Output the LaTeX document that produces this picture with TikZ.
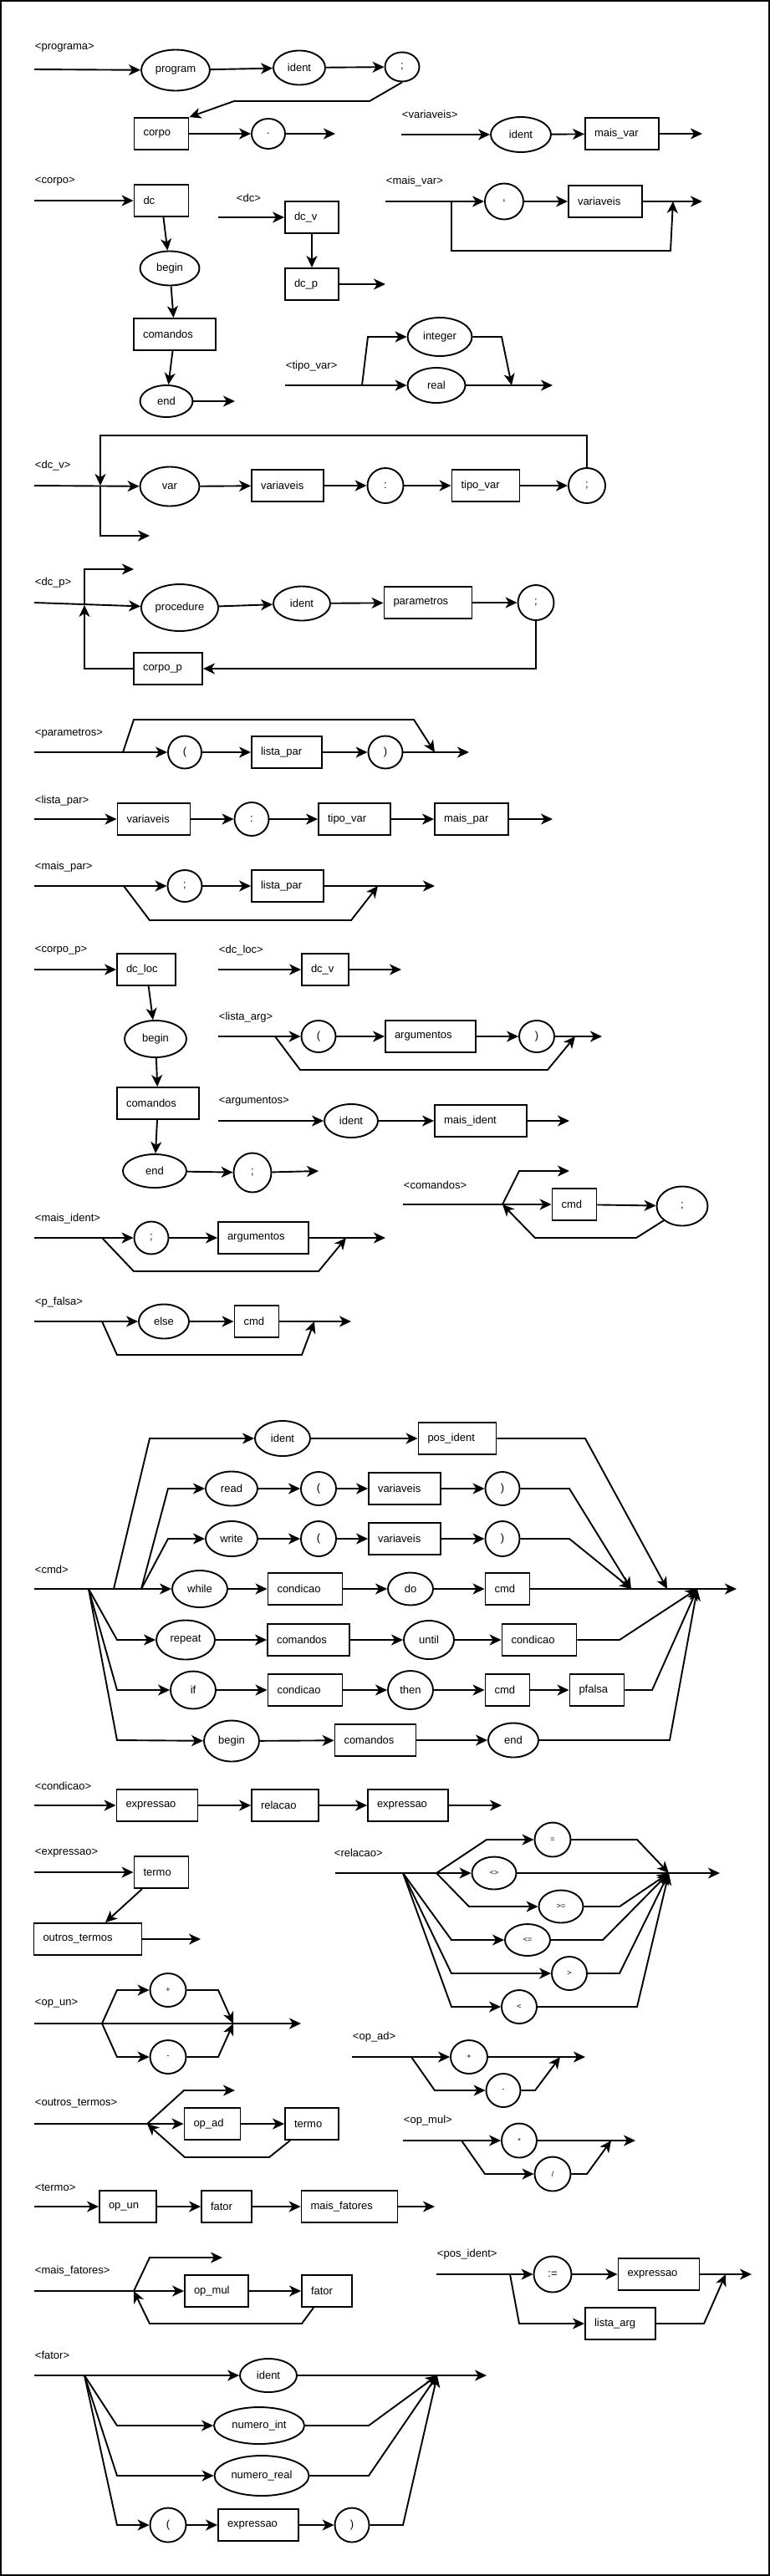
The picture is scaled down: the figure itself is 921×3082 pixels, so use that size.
\documentclass[tikz,border=0pt]{standalone}
\usepackage{fontspec}
\setmainfont{Liberation Sans}
\usetikzlibrary{arrows.meta, shapes.geometric}

\begin{document}
\begin{tikzpicture}[
  x=1pt, y=-1pt,
  line width=1.9pt,
  font=\fontsize{13}{15}\selectfont,
  tok/.style={draw, ellipse, inner sep=0pt, minimum width=42, minimum height=40},
  nt/.style={draw, rectangle, minimum height=38, inner xsep=11pt, inner ysep=0pt,
             text width=#1-22, align=left},
  nt/.default=65,
  op/.style={font=\fontsize{9}{10}\selectfont},
  lbl/.style={anchor=west, inner sep=0pt},
  arr/.style={-{Stealth[length=14pt, width=13pt, inset=4pt]}},
]
  \useasboundingbox (0,0) rectangle (921,3082);
  \draw[line width=2.4pt] (1.2,1.2) rectangle (919.8,3080.8);

  % <programa>
  \node[lbl] (lprog) at (41,57) {<programa>};
  \coordinate (progin) at (41,83);
  \node[tok, minimum width=82, minimum height=49] (prog) at (210,84) {program};
  \node[tok, minimum width=62, minimum height=41] (progid) at (358,81) {ident};
  \node[tok, minimum width=41, minimum height=35] (progsc) at (481,80) {;};
  \node[nt=65] (progcorpo) at (193,160) {corpo};
  \node[tok, minimum width=40, minimum height=36] (progdot) at (321,160) {.};
  \coordinate (progout) at (401,160);
  \draw[arr] (progin) -- (prog);
  \draw[arr] (prog) -- (progid);
  \draw[arr] (progid) -- (progsc);
  \draw[arr] (progsc.south) -- (442,121) -- (280,121) -- (progcorpo.north east);
  \draw[arr] (progcorpo) -- (progdot);
  \draw[arr] (progdot) -- (progout);

  % <variaveis>
  \node[lbl] (lvar) at (480,137) {<variaveis>};
  \coordinate (varin) at (480,161);
  \node[tok, minimum width=72, minimum height=42] (varid) at (623,161) {ident};
  \node[nt=88] (varmais) at (744,160) {mais\_var};
  \coordinate (varout) at (840,160);
  \draw[arr] (varin) -- (varid);
  \draw[arr] (varid) -- (varmais);
  \draw[arr] (varmais) -- (varout);

  % <corpo>
  \node[lbl] (lcor) at (41,217) {<corpo>};
  \coordinate (corin) at (41,240);
  \node[nt=65] (cordc) at (193,240) {dc};
  \node[tok, minimum width=71, minimum height=41] (corbeg) at (203,321) {begin};
  \node[nt=98] (corcmd) at (209,400) {comandos};
  \node[tok, minimum width=63, minimum height=38] (corend) at (199,480) {end};
  \coordinate (corout) at (281,480);
  \draw[arr] (corin) -- (cordc);
  \draw[arr] (cordc) -- (corbeg);
  \draw[arr] (corbeg) -- (corcmd);
  \draw[arr] (corcmd) -- (corend);
  \draw[arr] (corend) -- (corout);

  % <dc>
  \node[lbl] (ldc) at (282,237) {<dc>};
  \coordinate (dcin) at (261,260);
  \node[nt=64] (dcv) at (373,260) {dc\_v};
  \node[nt=64] (dcp) at (373,340) {dc\_p};
  \coordinate (dcout) at (461,340);
  \draw[arr] (dcin) -- (dcv);
  \draw[arr] (dcv) -- (dcp);
  \draw[arr] (dcp) -- (dcout);

  % <mais_var>
  \node[lbl] (lmv) at (461,217) {<mais\_var>};
  \coordinate (mvin) at (461,241);
  \coordinate (mvsplit) at (540,241);
  \node[tok, minimum width=46, minimum height=43] (mvcomma) at (603,241) {,};
  \node[nt=88] (mvvar) at (724,241) {variaveis};
  \coordinate (mvjoin) at (805,241);
  \coordinate (mvout) at (840,241);
  \draw[arr] (mvin) -- (mvcomma);
  \draw[arr] (mvcomma) -- (mvvar);
  \draw[arr] (mvvar) -- (mvout);
  \draw[arr] (mvsplit) -- (540,300) -- (802,300) -- (mvjoin);

  % <tipo_var>
  \node[lbl] (ltv) at (341,438) {<tipo\_var>};
  \coordinate (tvin) at (341,461);
  \coordinate (tvsplit) at (433,461);
  \node[tok, minimum width=77, minimum height=46] (tvint) at (526,403) {integer};
  \node[tok, minimum width=69, minimum height=42] (tvreal) at (522,461) {real};
  \coordinate (tvjoin) at (612,461);
  \coordinate (tvout) at (661,461);
  \draw[arr] (tvin) -- (tvreal);
  \draw[arr] (tvsplit) -- (440,403) -- (tvint);
  \draw[arr] (tvint) -- (600,403) -- (tvjoin);
  \draw[arr] (tvreal) -- (tvout);

  % <dc_v>
  \node[lbl] (ldv) at (41,557) {<dc\_v>};
  \coordinate (dvin) at (41,581);
  \coordinate (dvloop) at (120,581);
  \node[tok, minimum width=71, minimum height=47] (dvvar) at (203,582) {var};
  \node[nt=86] (dvvars) at (344,581) {variaveis};
  \node[tok, minimum width=43, minimum height=42] (dvcolon) at (461,581) {:};
  \node[nt=81] (dvtipo) at (581,581) {tipo\_var};
  \node[tok, minimum width=44, minimum height=42] (dvsc) at (702,581) {;};
  \coordinate (dvout) at (179,641);
  \draw[arr] (dvin) -- (dvvar);
  \draw[arr] (dvvar) -- (dvvars);
  \draw[arr] (dvvars) -- (dvcolon);
  \draw[arr] (dvcolon) -- (dvtipo);
  \draw[arr] (dvtipo) -- (dvsc);
  \draw[arr] (dvsc.north) -- (702,521) -- (120,521) -- (dvloop);
  \draw[arr] (dvloop) -- (120,641) -- (dvout);

  % <dc_p>
  \node[lbl] (ldp) at (41,697) {<dc\_p>};
  \coordinate (dpin) at (41,721);
  \coordinate (dploop) at (101,724);
  \node[tok, minimum width=92, minimum height=56] (dpproc) at (215,727) {procedure};
  \node[tok, minimum width=68, minimum height=41] (dpid) at (361,722) {ident};
  \node[nt=105] (dppar) at (512,721) {parametros};
  \node[tok, minimum width=43, minimum height=42] (dpsc) at (641,721) {;};
  \node[nt=82] (dpcorpo) at (201,800) {corpo\_p};
  \coordinate (dpout) at (160,681);
  \draw[arr] (dpin) -- (dpproc);
  \draw[arr] (dpproc) -- (dpid);
  \draw[arr] (dpid) -- (dppar);
  \draw[arr] (dppar) -- (dpsc);
  \draw[arr] (dpsc.south) -- (641,800) -- (dpcorpo);
  \draw[arr] (dpcorpo) -- (101,800) -- (dploop);
  \draw[arr] (dploop) -- (101,681) -- (dpout);

  % <parametros>
  \node[lbl] (lpm) at (41,878) {<parametros>};
  \coordinate (pmin) at (41,900);
  \coordinate (pmsplit) at (147,900);
  \node[tok, minimum width=40, minimum height=39] (pmopen) at (221,900) {(};
  \node[nt=84] (pmlista) at (343,900) {lista\_par};
  \node[tok, minimum width=41, minimum height=39] (pmclose) at (461,900) {)};
  \coordinate (pmjoin) at (520,900);
  \coordinate (pmout) at (561,900);
  \draw[arr] (pmin) -- (pmopen);
  \draw[arr] (pmopen) -- (pmlista);
  \draw[arr] (pmlista) -- (pmclose);
  \draw[arr] (pmclose) -- (pmout);
  \draw[arr] (pmsplit) -- (160,861) -- (495,861) -- (pmjoin);

  % <lista_par>
  \node[lbl] (llp) at (41,958) {<lista\_par>};
  \coordinate (lpin) at (41,980);
  \node[nt=87] (lpvars) at (184,980) {variaveis};
  \node[tok, minimum width=41, minimum height=40] (lpcolon) at (301,980) {:};
  \node[nt=86] (lptipo) at (424,980) {tipo\_var};
  \node[nt=88] (lpmais) at (564,980) {mais\_par};
  \coordinate (lpout) at (661,980);
  \draw[arr] (lpin) -- (lpvars);
  \draw[arr] (lpvars) -- (lpcolon);
  \draw[arr] (lpcolon) -- (lptipo);
  \draw[arr] (lptipo) -- (lpmais);
  \draw[arr] (lpmais) -- (lpout);

  % <mais_par>
  \node[lbl] (lmp) at (41,1037) {<mais\_par>};
  \coordinate (mpin) at (41,1060);
  \coordinate (mpsplit) at (148,1060);
  \node[tok, minimum width=41, minimum height=38] (mpsc) at (221,1060) {;};
  \node[nt=86] (mplista) at (344,1060) {lista\_par};
  \coordinate (mpjoin) at (452,1060);
  \coordinate (mpout) at (520,1060);
  \draw[arr] (mpin) -- (mpsc);
  \draw[arr] (mpsc) -- (mplista);
  \draw[arr] (mplista) -- (mpout);
  \draw[arr] (mpsplit) -- (179,1101) -- (420,1101) -- (mpjoin);

  % <corpo_p>
  \node[lbl] (lcp) at (41,1137) {<corpo\_p>};
  \coordinate (cpin) at (41,1160);
  \node[nt=70] (cpdc) at (175,1160) {dc\_loc};
  \node[tok, minimum width=74, minimum height=44] (cpbeg) at (186,1243) {begin};
  \node[nt=98] (cpcmd) at (189,1320) {comandos};
  \node[tok, minimum width=76, minimum height=40] (cpend) at (185,1401) {end};
  \node[tok, minimum width=45, minimum height=47] (cpsc) at (302,1403) {;};
  \coordinate (cpout) at (381,1401);
  \draw[arr] (cpin) -- (cpdc);
  \draw[arr] (cpdc) -- (cpbeg);
  \draw[arr] (cpbeg) -- (cpcmd);
  \draw[arr] (cpcmd) -- (cpend);
  \draw[arr] (cpend) -- (cpsc);
  \draw[arr] (cpsc) -- (cpout);

  % <dc_loc>
  \node[lbl] (ldl) at (261,1137) {<dc\_loc>};
  \coordinate (dlin) at (261,1160);
  \node[nt=56] (dldcv) at (389,1160) {dc\_v};
  \coordinate (dlout) at (480,1160);
  \draw[arr] (dlin) -- (dldcv);
  \draw[arr] (dldcv) -- (dlout);

  % <lista_arg>
  \node[lbl] (lla) at (261,1217) {<lista\_arg>};
  \coordinate (lain) at (261,1240);
  \coordinate (lasplit) at (329,1240);
  \node[tok, minimum width=41, minimum height=38] (laopen) at (381,1240) {(};
  \node[nt=108] (laargs) at (515,1240) {argumentos};
  \node[tok, minimum width=42, minimum height=38] (laclose) at (642,1240) {)};
  \coordinate (lajoin) at (688,1240);
  \coordinate (laout) at (720,1240);
  \draw[arr] (lain) -- (laopen);
  \draw[arr] (laopen) -- (laargs);
  \draw[arr] (laargs) -- (laclose);
  \draw[arr] (laclose) -- (laout);
  \draw[arr] (lasplit) -- (359,1280) -- (655,1280) -- (lajoin);

  % <argumentos>
  \node[lbl] (lag) at (261,1318) {<argumentos>};
  \coordinate (agin) at (261,1341);
  \node[tok, minimum width=64, minimum height=40] (agid) at (420,1341) {ident};
  \node[nt=110] (agmais) at (575,1341) {mais\_ident};
  \coordinate (agout) at (681,1341);
  \draw[arr] (agin) -- (agid);
  \draw[arr] (agid) -- (agmais);
  \draw[arr] (agmais) -- (agout);

  % <comandos>
  \node[lbl] (lcm) at (482,1418) {<comandos>};
  \coordinate (cmin) at (482,1441);
  \coordinate (cmsplit) at (601,1441);
  \node[nt=53] (cmcmd) at (687,1441) {cmd};
  \node[tok, minimum width=61, minimum height=47] (cmsc) at (816,1443) {;};
  \coordinate (cmout) at (681,1401);
  \draw[arr] (cmin) -- (cmcmd);
  \draw[arr] (cmcmd) -- (cmsc);
  \draw[arr] (cmsplit) -- (621,1401) -- (cmout);
  \draw[arr] (cmsc.south west) -- (761,1481) -- (640,1481) -- (cmsplit);

  % <mais_ident>
  \node[lbl] (lmi) at (41,1458) {<mais\_ident>};
  \coordinate (miin) at (41,1481);
  \coordinate (misplit) at (122,1481);
  \node[tok, minimum width=41, minimum height=39] (misc) at (181,1481) {;};
  \node[nt=108] (miargs) at (315,1481) {argumentos};
  \coordinate (mijoin) at (414,1481);
  \coordinate (miout) at (461,1481);
  \draw[arr] (miin) -- (misc);
  \draw[arr] (misc) -- (miargs);
  \draw[arr] (miargs) -- (miout);
  \draw[arr] (misplit) -- (160,1521) -- (381,1521) -- (mijoin);

  % <p_falsa>
  \node[lbl] (lpf) at (41,1558) {<p\_falsa>};
  \coordinate (pfin) at (41,1581);
  \coordinate (pfsplit) at (122,1581);
  \node[tok, minimum width=60, minimum height=41] (pfelse) at (196,1581) {else};
  \node[nt=53] (pfcmd) at (307,1581) {cmd};
  \coordinate (pfjoin) at (376,1581);
  \coordinate (pfout) at (420,1581);
  \draw[arr] (pfin) -- (pfelse);
  \draw[arr] (pfelse) -- (pfcmd);
  \draw[arr] (pfcmd) -- (pfout);
  \draw[arr] (pfsplit) -- (140,1621) -- (361,1621) -- (pfjoin);

  % <cmd>
  \node[lbl] (lcd) at (41,1878) {<cmd>};
  \coordinate (cdin) at (41,1901);
  \coordinate (cdsplitA) at (106,1901);
  \coordinate (cdsplitB) at (136,1901);
  \coordinate (cdsplitC) at (169,1901);
  \coordinate (cdjoinA) at (755,1901);
  \coordinate (cdjoinB) at (798,1901);
  \coordinate (cdjoinC) at (834,1901);
  \coordinate (cdout) at (881,1901);
  % ident
  \node[tok, minimum width=66, minimum height=42] (cdid) at (338,1721) {ident};
  \node[nt=93] (cdpos) at (547,1721) {pos\_ident};
  \draw[arr] (cdsplitB) -- (179,1721) -- (cdid);
  \draw[arr] (cdid) -- (cdpos);
  \draw[arr] (cdpos) -- (700,1721) -- (cdjoinB);
  % read
  \node[tok, minimum width=62, minimum height=41] (cdread) at (277,1781) {read};
  \node[tok, minimum width=42, minimum height=40] (cdropen) at (381,1781) {(};
  \node[nt=86] (cdrvars) at (484,1781) {variaveis};
  \node[tok, minimum width=41, minimum height=40] (cdrclose) at (601,1781) {)};
  \draw[arr] (cdsplitC) -- (201,1781) -- (cdread);
  \draw[arr] (cdread) -- (cdropen);
  \draw[arr] (cdropen) -- (cdrvars);
  \draw[arr] (cdrvars) -- (cdrclose);
  \draw[arr] (cdrclose) -- (681,1781) -- (cdjoinA);
  % write
  \node[tok, minimum width=62, minimum height=42] (cdwrite) at (277,1841) {write};
  \node[tok, minimum width=42, minimum height=42] (cdwopen) at (381,1841) {(};
  \node[nt=86] (cdwvars) at (484,1841) {variaveis};
  \node[tok, minimum width=41, minimum height=42] (cdwclose) at (601,1841) {)};
  \draw[arr] (cdsplitC) -- (201,1841) -- (cdwrite);
  \draw[arr] (cdwrite) -- (cdwopen);
  \draw[arr] (cdwopen) -- (cdwvars);
  \draw[arr] (cdwvars) -- (cdwclose);
  \draw[arr] (cdwclose) -- (681,1841) -- (cdjoinA);
  % while
  \node[tok, minimum width=66, minimum height=44] (cdwhile) at (239,1901) {while};
  \node[nt=89] (cdwhcond) at (365,1901) {condicao};
  \node[tok, minimum width=54, minimum height=39] (cddo) at (491,1901) {do};
  \node[nt=53] (cdwhcmd) at (607,1901) {cmd};
  \draw[arr] (cdin) -- (cdwhile);
  \draw[arr] (cdwhile) -- (cdwhcond);
  \draw[arr] (cdwhcond) -- (cddo);
  \draw[arr] (cddo) -- (cdwhcmd);
  \draw[arr] (cdwhcmd) -- (cdout);
  % repeat
  \node[tok, minimum width=70, minimum height=47] (cdrep) at (222,1962) {repeat};
  \node[nt=98] (cdrcmds) at (369,1962) {comandos};
  \node[tok, minimum width=60, minimum height=46] (cduntil) at (513,1962) {until};
  \node[nt=89] (cdrcond) at (645,1962) {condicao};
  \draw[arr] (cdsplitA) -- (140,1962) -- (cdrep);
  \draw[arr] (cdrep) -- (cdrcmds);
  \draw[arr] (cdrcmds) -- (cduntil);
  \draw[arr] (cduntil) -- (cdrcond);
  \draw[arr] (cdrcond) -- (741,1962) -- (cdjoinC);
  % if
  \node[tok, minimum width=54, minimum height=45] (cdif) at (231,2022) {if};
  \node[nt=89] (cdicond) at (365,2022) {condicao};
  \node[tok, minimum width=54, minimum height=46] (cdthen) at (491,2022) {then};
  \node[nt=53] (cdicmd) at (607,2022) {cmd};
  \node[nt=65] (cdpf) at (714,2022) {pfalsa};
  \draw[arr] (cdsplitA) -- (140,2022) -- (cdif);
  \draw[arr] (cdif) -- (cdicond);
  \draw[arr] (cdicond) -- (cdthen);
  \draw[arr] (cdthen) -- (cdicmd);
  \draw[arr] (cdicmd) -- (cdpf);
  \draw[arr] (cdpf) -- (780,2022) -- (cdjoinC);
  % begin
  \node[tok, minimum width=66, minimum height=49] (cdbeg) at (277,2083) {begin};
  \node[nt=97] (cdbcmds) at (449,2082) {comandos};
  \node[tok, minimum width=60, minimum height=41] (cdend) at (614,2082) {end};
  \draw[arr] (cdsplitA) -- (140,2082) -- (cdbeg);
  \draw[arr] (cdbeg) -- (cdbcmds);
  \draw[arr] (cdbcmds) -- (cdend);
  \draw[arr] (cdend) -- (801,2082) -- (cdjoinC);

  % <condicao>
  \node[lbl] (lcn) at (41,2137) {<condicao>};
  \coordinate (cnin) at (41,2160);
  \node[nt=97] (cnexp1) at (188,2160) {expressao};
  \node[nt=80] (cnrel) at (341,2160) {relacao};
  \node[nt=96] (cnexp2) at (488,2160) {expressao};
  \coordinate (cnout) at (600,2160);
  \draw[arr] (cnin) -- (cnexp1);
  \draw[arr] (cnexp1) -- (cnrel);
  \draw[arr] (cnrel) -- (cnexp2);
  \draw[arr] (cnexp2) -- (cnout);

  % <expressao>
  \node[lbl] (lex) at (41,2217) {<expressao>};
  \coordinate (exin) at (41,2240);
  \node[nt=65] (exterm) at (193,2240) {termo};
  \node[nt=129] (exoutros) at (105,2320) {outros\_termos};
  \coordinate (exout) at (240,2320);
  \draw[arr] (exin) -- (exterm);
  \draw[arr] ([xshift=-23pt]exterm.south) -- ([xshift=21pt]exoutros.north);
  \draw[arr] (exoutros) -- (exout);

  % <relacao>
  \node[lbl] (lrl) at (399,2217) {<relacao>};
  \coordinate (rlin) at (401,2241);
  \coordinate (rlsplitA) at (482,2241);
  \coordinate (rlsplitB) at (522,2241);
  \coordinate (rljoin) at (800,2241);
  \coordinate (rlout) at (861,2241);
  \node[tok, op, minimum width=43, minimum height=41] (rleq) at (661,2201) {=};
  \node[tok, op, minimum width=53, minimum height=39] (rlne) at (591,2241) {<>};
  \node[tok, op, minimum width=53, minimum height=39] (rlge) at (671,2281) {>=};
  \node[tok, op, minimum width=54, minimum height=38] (rlle) at (631,2321) {<=};
  \node[tok, op, minimum width=42, minimum height=40] (rlgt) at (681,2361) {>};
  \node[tok, op, minimum width=42, minimum height=40] (rllt) at (621,2401) {<};
  \draw[arr] (rlin) -- (rlne);
  \draw[arr] (rlne) -- (rlout);
  \draw[arr] (rlsplitB) -- (582,2201) -- (rleq);
  \draw[arr] (rleq) -- (762,2201) -- (rljoin);
  \draw[arr] (rlsplitB) -- (561,2281) -- (rlge);
  \draw[arr] (rlge) -- (741,2281) -- (rljoin);
  \draw[arr] (rlsplitA) -- (540,2321) -- (rlle);
  \draw[arr] (rlle) -- (721,2321) -- (rljoin);
  \draw[arr] (rlsplitA) -- (540,2361) -- (rlgt);
  \draw[arr] (rlgt) -- (741,2361) -- (rljoin);
  \draw[arr] (rlsplitA) -- (540,2401) -- (rllt);
  \draw[arr] (rllt) -- (762,2401) -- (rljoin);

  % <op_un>
  \node[lbl] (lou) at (41,2397) {<op\_un>};
  \coordinate (ouin) at (41,2421);
  \coordinate (ousplit) at (122,2421);
  \coordinate (oujoin) at (279,2421);
  \coordinate (ouout) at (360,2421);
  \node[tok, op, minimum width=43, minimum height=40] (ouplus) at (201,2381) {+};
  \node[tok, op, minimum width=43, minimum height=40] (ouminus) at (201,2461) {-};
  \draw[arr] (ouin) -- (ouout);
  \draw[arr] (ousplit) -- (140,2381) -- (ouplus);
  \draw[arr] (ouplus) -- (261,2381) -- (oujoin);
  \draw[arr] (ousplit) -- (140,2461) -- (ouminus);
  \draw[arr] (ouminus) -- (261,2461) -- (oujoin);

  % <op_ad>
  \node[lbl] (loa) at (421,2437) {<op\_ad>};
  \coordinate (oain) at (421,2461);
  \coordinate (oasplit) at (492,2461);
  \node[tok, op, minimum width=44, minimum height=40] (oaplus) at (561,2461) {+};
  \node[tok, op, minimum width=41, minimum height=40] (oaminus) at (602,2501) {-};
  \coordinate (oajoin) at (670,2461);
  \coordinate (oaout) at (700,2461);
  \draw[arr] (oain) -- (oaplus);
  \draw[arr] (oaplus) -- (oaout);
  \draw[arr] (oasplit) -- (520,2501) -- (oaminus);
  \draw[arr] (oaminus) -- (640,2501) -- (oajoin);

  % <outros_termos>
  \node[lbl] (lot) at (41,2517) {<outros\_termos>};
  \coordinate (otin) at (41,2541);
  \coordinate (otsplit) at (176,2541);
  \node[nt=67] (otop) at (254,2541) {op\_ad};
  \node[nt=64] (otterm) at (373,2541) {termo};
  \coordinate (otout) at (281,2501);
  \draw[arr] (otin) -- (otop);
  \draw[arr] (otop) -- (otterm);
  \draw[arr] (otsplit) -- (220,2501) -- (otout);
  \draw[arr] ([xshift=-26pt]otterm.south) -- (322,2581) -- (221,2581) -- (otsplit);

  % <op_mul>
  \node[lbl] (lom) at (482,2537) {<op\_mul>};
  \coordinate (omin) at (482,2561);
  \coordinate (omsplit) at (552,2561);
  \node[tok, op, minimum width=42, minimum height=41] (omtimes) at (621,2561) {*};
  \node[tok, op, minimum width=43, minimum height=41] (omdiv) at (661,2601) {/};
  \coordinate (omjoin) at (731,2561);
  \coordinate (omout) at (760,2561);
  \draw[arr] (omin) -- (omtimes);
  \draw[arr] (omtimes) -- (omout);
  \draw[arr] (omsplit) -- (580,2601) -- (omdiv);
  \draw[arr] (omdiv) -- (702,2601) -- (omjoin);

  % <termo>
  \node[lbl] (ltm) at (41,2617) {<termo>};
  \coordinate (tmin) at (41,2640);
  \node[nt=68] (tmop) at (153,2640) {op\_un};
  \node[nt=60] (tmfator) at (271,2640) {fator};
  \node[nt=115] (tmmais) at (418,2640) {mais\_fatores};
  \coordinate (tmout) at (520,2640);
  \draw[arr] (tmin) -- (tmop);
  \draw[arr] (tmop) -- (tmfator);
  \draw[arr] (tmfator) -- (tmmais);
  \draw[arr] (tmmais) -- (tmout);

  % <mais_fatores>
  \node[lbl] (lmf) at (41,2717) {<mais\_fatores>};
  \coordinate (mfin) at (41,2741);
  \coordinate (mfsplit) at (160,2741);
  \node[nt=76] (mfop) at (259,2741) {op\_mul};
  \node[nt=60] (mffator) at (391,2741) {fator};
  \coordinate (mfout) at (266,2701);
  \draw[arr] (mfin) -- (mfop);
  \draw[arr] (mfop) -- (mffator);
  \draw[arr] (mfsplit) -- (179,2701) -- (mfout);
  \draw[arr] ([xshift=-16pt]mffator.south) -- (361,2780) -- (179,2780) -- (mfsplit);

  % <pos_ident>
  \node[lbl] (lpi) at (522,2697) {<pos\_ident>};
  \coordinate (piin) at (522,2721);
  \coordinate (pisplit) at (610,2721);
  \node[tok, minimum width=45, minimum height=43] (piassign) at (661,2721) {:=};
  \node[nt=97] (piexp) at (788,2721) {expressao};
  \node[nt=84] (pilista) at (742,2780) {lista\_arg};
  \coordinate (pijoin) at (868,2721);
  \coordinate (piout) at (899,2721);
  \draw[arr] (piin) -- (piassign);
  \draw[arr] (piassign) -- (piexp);
  \draw[arr] (piexp) -- (piout);
  \draw[arr] (pisplit) -- (621,2780) -- (pilista);
  \draw[arr] (pilista) -- (842,2780) -- (pijoin);

  % <fator>
  \node[lbl] (lft) at (41,2818) {<fator>};
  \coordinate (ftin) at (41,2842);
  \coordinate (ftsplit) at (101,2842);
  \coordinate (ftjoin) at (523,2842);
  \coordinate (ftout) at (582,2842);
  \node[tok, minimum width=68, minimum height=40] (ftid) at (321,2842) {ident};
  \node[tok, minimum width=108, minimum height=44] (ftint) at (310,2902) {numero\_int};
  \node[tok, minimum width=113, minimum height=48] (ftreal) at (313,2962) {numero\_real};
  \node[tok, minimum width=43, minimum height=41] (ftopen) at (201,3021) {(};
  \node[nt=96] (ftexp) at (309,3021) {expressao};
  \node[tok, minimum width=41, minimum height=41] (ftclose) at (421,3021) {)};
  \draw[arr] (ftin) -- (ftid);
  \draw[arr] (ftid) -- (ftout);
  \draw[arr] (ftsplit) -- (140,2902) -- (ftint);
  \draw[arr] (ftint) -- (441,2902) -- (ftjoin);
  \draw[arr] (ftsplit) -- (140,2962) -- (ftreal);
  \draw[arr] (ftreal) -- (441,2962) -- (ftjoin);
  \draw[arr] (ftsplit) -- (140,3021) -- (ftopen);
  \draw[arr] (ftopen) -- (ftexp);
  \draw[arr] (ftexp) -- (ftclose);
  \draw[arr] (ftclose) -- (482,3021) -- (ftjoin);
\end{tikzpicture}
\end{document}
